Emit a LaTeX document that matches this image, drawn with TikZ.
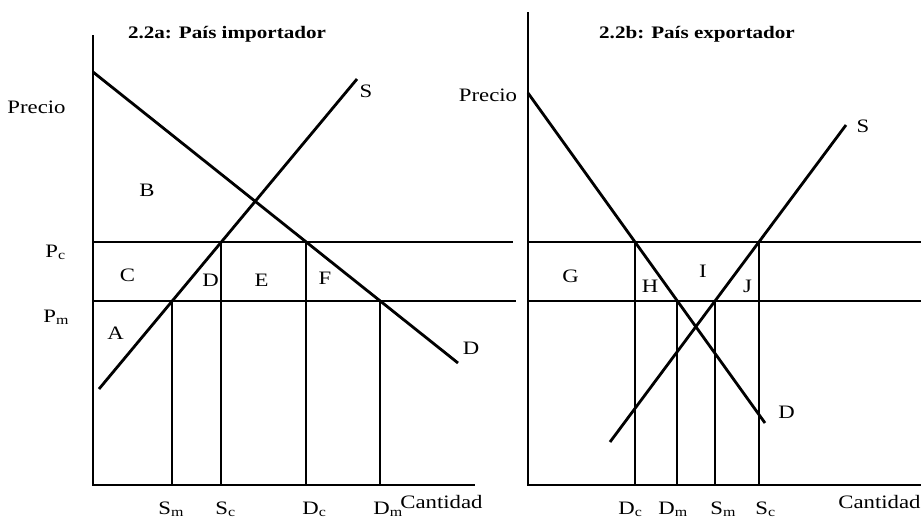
\documentclass[tikz,border=0pt]{standalone}
\usepackage{fontspec}
\setmainfont[FakeStretch=1.2]{Liberation Serif}
\usepackage{tikz}
\usetikzlibrary{positioning}
\tikzset{
  axisline/.style={line width=1.7pt,black},
  curveline/.style={line width=1.6pt,black},
  priceline/.style={line width=1.2pt,black},
  qtyline/.style={line width=1.1pt,black},
  lbl/.style={inner sep=0pt,font=\fontsize{10.8}{12}\selectfont},
  baselbl/.style={lbl,anchor=base west},
  ttl/.style={inner sep=0pt,font=\fontsize{10}{12}\selectfont\bfseries},
}

\begin{document}
\begin{tikzpicture}[x=0.02cm,y=0.02cm]
  \useasboundingbox (0,0) rectangle (924,529);
  % 2.2a: importing country
  \coordinate (O1) at (93,44);
  \coordinate (Y1) at (93,494);
  \coordinate (X1) at (475,44);
  \coordinate (PcL1) at (93,287);
  \coordinate (PcR1) at (513,287);
  \coordinate (PmL1) at (93,228);
  \coordinate (PmR1) at (516,228);
  \coordinate (Dtop1) at (93,457);
  \coordinate (Dbot1) at (458,166);
  \coordinate (Sbot1) at (99,140);
  \coordinate (Stop1) at (357,450);
  \coordinate (Sm1) at (intersection of Sbot1--Stop1 and PmL1--PmR1);
  \coordinate (Sc1) at (intersection of Sbot1--Stop1 and PcL1--PcR1);
  \coordinate (Dc1) at (intersection of Dtop1--Dbot1 and PcL1--PcR1);
  \coordinate (Dm1) at (intersection of Dtop1--Dbot1 and PmL1--PmR1);
  \draw[priceline] (PcL1) -- (PcR1);
  \draw[priceline] (PmL1) -- (PmR1);
  \foreach \q in {Sm1,Sc1,Dc1,Dm1}
    \draw[qtyline] (\q) -- (\q |- O1);
  \draw[curveline] (Dtop1) -- (Dbot1);
  \draw[curveline] (Sbot1) -- (Stop1);
  \draw[axisline] (Y1) -- (O1) -- (X1);
  \node[ttl] (titleA) at (227,495) {2.2a: País importador};
  \node[lbl] (precioA) at (36.5,421.5) {Precio};
  \node[baselbl] (pcA) at (45,272) {P\textsubscript{c}};
  \node[baselbl] (pmA) at (43,207) {P\textsubscript{m}};
  \node[lbl] (supA) at (366,437.5) {S};
  \node[lbl] (demA) at (471,180.5) {D};
  \node[lbl] (areaB) at (147,339) {B};
  \node[lbl] (areaC) at (127.5,253.5) {C};
  \node[lbl] (areaD) at (210.5,249) {D};
  \node[lbl] (areaE) at (261.5,249) {E};
  \node[lbl] (areaF) at (325,250.5) {F};
  \node[lbl] (areaA) at (115.5,195.5) {A};
  \node[baselbl] (smA) at (158,15) {S\textsubscript{m}};
  \node[baselbl] (scA) at (215,15) {S\textsubscript{c}};
  \node[baselbl] (dcA) at (302,15) {D\textsubscript{c}};
  \node[baselbl] (dmA) at (373,15) {D\textsubscript{m}};
  \node[baselbl] (qtyA) at (400,21) {Cantidad};
  % 2.2b: exporting country
  \coordinate (O2) at (528,44);
  \coordinate (Y2) at (528,517);
  \coordinate (X2) at (921,44);
  \coordinate (PcL2) at (528,287);
  \coordinate (PcR2) at (921,287);
  \coordinate (PmL2) at (528,228);
  \coordinate (PmR2) at (921,228);
  \coordinate (Dtop2) at (528,436);
  \coordinate (Dbot2) at (765,106);
  \coordinate (Sbot2) at (610,87);
  \coordinate (Stop2) at (846,404);
  \coordinate (Dc2) at (intersection of Dtop2--Dbot2 and PcL2--PcR2);
  \coordinate (Dm2) at (intersection of Dtop2--Dbot2 and PmL2--PmR2);
  \coordinate (Sm2) at (intersection of Sbot2--Stop2 and PmL2--PmR2);
  \coordinate (Sc2) at (intersection of Sbot2--Stop2 and PcL2--PcR2);
  \draw[priceline] (PcL2) -- (PcR2);
  \draw[priceline] (PmL2) -- (PmR2);
  \foreach \q in {Dc2,Dm2,Sm2,Sc2}
    \draw[qtyline] (\q) -- (\q |- O2);
  \draw[curveline] (Dtop2) -- (Dbot2);
  \draw[curveline] (Sbot2) -- (Stop2);
  \draw[axisline] (Y2) -- (O2) -- (X2);
  \node[ttl] (titleB) at (697,495) {2.2b: País exportador};
  \node[lbl] (precioB) at (488,433.5) {Precio};
  \node[lbl] (supB) at (863,403) {S};
  \node[lbl] (demB) at (786.5,116.5) {D};
  \node[lbl] (areaG) at (570.5,253) {G};
  \node[lbl] (areaH) at (650,242.5) {H};
  \node[lbl] (areaI) at (703,257.5) {I};
  \node[lbl] (areaJ) at (747.5,243) {J};
  \node[baselbl] (dcB) at (618,15) {D\textsubscript{c}};
  \node[baselbl] (dmB) at (658,15) {D\textsubscript{m}};
  \node[baselbl] (smB) at (710,15) {S\textsubscript{m}};
  \node[baselbl] (scB) at (755,15) {S\textsubscript{c}};
  \node[baselbl] (qtyB) at (838,21) {Cantidad};
\end{tikzpicture}
\end{document}
